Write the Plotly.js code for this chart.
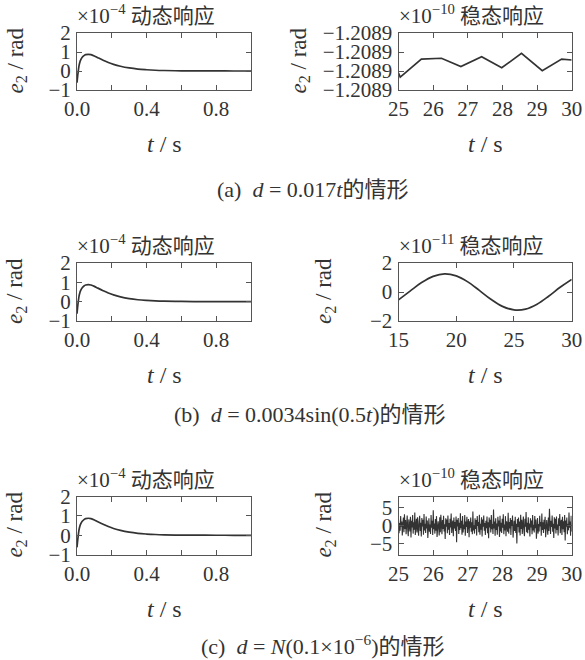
<!DOCTYPE html>
<html>
<head>
<meta charset="utf-8">
<script src="https://cdn.plot.ly/plotly-3.0.1.min.js"></script>
<style>html,body{margin:0;padding:0;background:#fff;}#chart{width:585px;height:660px;}</style>
</head>
<body>
<div id="chart"></div>
<script>
// ---------- data ----------
// dynamic response (same in all three cases), units 1e-4 rad
var dynT = [0, 0.004, 0.008, 0.012, 0.016, 0.02, 0.03, 0.04, 0.05, 0.065, 0.08, 0.1, 0.12, 0.15, 0.18, 0.21, 0.25, 0.3, 0.35, 0.4, 0.45, 0.5, 0.6, 0.7, 0.8, 0.9, 1.0];
var dynE = [-0.62, -0.25, 0.05, 0.3, 0.45, 0.56, 0.72, 0.81, 0.86, 0.88, 0.86, 0.79, 0.7, 0.57, 0.45, 0.35, 0.25, 0.16, 0.1, 0.065, 0.04, 0.025, 0.01, 0.005, 0.002, 0.001, 0];

// (a) steady-state, units 1e-10 rad
var ssAT = [25, 25.05, 25.66, 26.24, 26.8, 27.4, 27.98, 28.55, 29.15, 29.71, 30];
var ssAE = [-1.2088811, -1.2088832, -1.2088737, -1.2088733, -1.2088777, -1.2088725, -1.2088783, -1.2088707, -1.2088798, -1.2088737, -1.2088742];

// (b) steady-state, units 1e-11 rad
var ssBT = [15, 16, 17, 18, 19, 20, 21, 22, 23, 24, 25, 26, 27, 28, 29, 30];
var ssBE = [-0.54, 0.06, 0.65, 1.08, 1.25, 1.11, 0.70, 0.11, -0.50, -0.99, -1.23, -1.18, -0.84, -0.29, 0.33, 0.87];

// (c) steady-state noise, units 1e-10 rad, sampled evenly from t0 to t1
var ssCT0 = 25, ssCT1 = 30;
var ssCE = [
1.8,-2.1,0.7,-1.4,2.6,-0.3,1.1,-2.7,0.4,2.2,-1.8,3.1,-0.9,1.5,-2.4,0.2,2.8,-1.2,-2.9,1.7,
0.6,-1.6,2.4,-3.3,1.3,-0.5,2.9,-2.2,0.9,-1.1,3.6,-2.6,0.1,1.9,-1.9,2.3,-0.7,-2.8,1.2,2.7,
-1.5,0.8,-3.0,2.1,-0.2,1.6,-2.5,3.2,-1.3,0.5,-2.0,2.5,-0.8,1.4,-3.4,1.0,2.0,-1.7,0.3,-2.3,
2.9,-0.6,1.3,-2.6,4.2,-1.0,0.6,-2.2,1.8,-1.4,2.6,-3.1,0.9,1.2,-0.4,-2.7,2.3,-1.8,3.0,-0.1,
-2.4,1.5,-0.9,2.7,-1.6,0.4,-3.7,2.0,-0.3,1.7,-2.1,2.8,-1.1,0.7,-2.6,1.9,-0.5,3.3,-2.0,0.2,
1.4,-2.9,2.2,-0.8,1.0,-1.5,2.5,-4.6,1.6,-0.2,2.1,-2.3,0.8,-1.2,3.4,-0.7,1.3,-2.5,2.6,-1.9,
0.3,-1.0,2.9,-2.8,1.1,-0.4,2.4,-2.0,0.6,1.8,-3.2,1.2,-0.6,2.2,-1.7,0.9,-2.4,3.9,-1.3,0.1,
-2.2,2.0,-0.9,1.5,-2.7,2.6,-0.1,1.0,-1.8,3.0,-2.5,0.5,-1.1,2.3,-3.0,1.7,-0.3,2.8,-1.4,0.7,
-2.6,1.3,-0.7,2.5,-2.1,0.9,-3.5,2.2,-0.5,1.6,-1.9,2.9,-1.0,0.4,-2.3,4.4,-0.8,1.1,-2.8,2.0,
-1.2,0.6,-2.5,2.4,-0.2,1.4,-3.1,2.7,-1.6,0.8,-2.0,1.9,-0.6,3.1,-2.4,0.3,-1.3,2.6,-2.9,1.2,
0.2,-1.7,3.5,-2.2,1.0,-0.8,2.1,-2.6,1.5,-0.1,2.8,-3.3,0.7,1.3,-1.5,2.4,-2.0,0.5,-4.9,1.8,
-0.4,2.2,-1.9,1.1,-2.7,3.0,-0.9,1.6,-2.3,0.4,2.5,-1.4,-2.9,1.9,-0.3,3.7,-1.8,0.8,-2.1,2.3,
-1.1,0.6,-3.0,2.0,-0.5,1.4,-2.4,2.9,-1.3,0.2,-1.9,2.6,-0.7,1.7,-3.6,1.2,2.1,-2.2,0.4,-1.6,
2.7,-0.2,1.0,-2.8,3.3,-1.2,0.9,-2.0,1.6,-1.0,2.4,-3.2,0.6,1.5,-0.6,-2.5,2.2,-1.5,4.6,-0.9,
-2.3,1.3,-0.4,2.8,-1.7,0.5,-3.4,2.3,-0.8,1.9,-2.2,2.5,-1.2,0.3,-2.7,2.0,-0.1,3.2,-2.1,0.9,
1.6,-2.6,2.4,-1.0,1.2,-1.8,2.9,-4.1,1.4,-0.3,2.2,-2.4,0.5,-1.3,3.6,-0.6,1.1,-2.8,2.7,-1.6
];
var ssCT = ssCE.map(function(_, i){ return ssCT0 + (ssCT1 - ssCT0) * i / (ssCE.length - 1); });

// tick labels
var dynXTickVals = [0, 0.2, 0.4, 0.6, 0.8, 1.0];
var dynXTickText = ["0.0", "", "0.4", "", "0.8", ""];
var dynYTickVals = [-1, 0, 1, 2];
var dynYTickText = ["\u22121", "0", "1", "2"];
var ssAYTickVals = [-1.20889, -1.20888, -1.20887, -1.20886];
var ssAYTickText = ["\u22121.2089", "\u22121.2089", "\u22121.2089", "\u22121.2089"];
var ssBYTickVals = [-2, 0, 2];
var ssBYTickText = ["\u22122", "0", "2"];
var ssCYTickVals = [-5, 0, 5];
var ssCYTickText = ["\u22125", "0", "5"];

var dynTitle = "\u00d710<sup>\u22124</sup> 动态响应";
var ssTitles = ["\u00d710<sup>\u221210</sup> 稳态响应", "\u00d710<sup>\u221211</sup> 稳态响应", "\u00d710<sup>\u221210</sup> 稳态响应"];
var captions = ["(a)  <i>d</i> = 0.017<i>t</i>的情形", "(b)  <i>d</i> = 0.0034sin(0.5<i>t</i>)的情形", "(c)  <i>d</i> = <i>N</i>(0.1\u00d710<sup>\u22126</sup>)的情形"];
var yTitle = "<i>e</i><sub>2</sub> / rad";
var xTitle = "<i>t</i> / s";

// ---------- layout ----------
var W = 585, H = 660;
function fx(p){ return p / W; }
function fy(p){ return 1 - p / H; }

var FONT = "'Liberation Serif', 'Times New Roman', 'Noto Sans CJK SC', serif";
var TXT = "#333";
var AX = "#555";
var LINE = "#333";

var colL = [77, 251], colR = [398.5, 571.7];
var rows = [[33, 90], [263, 321], [496.5, 554.7]];

function axisBase(){
  return {
    showline: true, linecolor: AX, linewidth: 1, mirror: 'ticks',
    ticks: 'inside', ticklen: 5, tickcolor: AX, tickwidth: 1,
    showgrid: false, zeroline: false, fixedrange: true,
    tickfont: {family: FONT, size: 21, color: TXT}
  };
}

var layout = {
  width: W, height: H,
  margin: {l: 0, r: 0, t: 0, b: 0},
  paper_bgcolor: '#fff', plot_bgcolor: '#fff',
  showlegend: false,
  font: {family: FONT, color: TXT},
  annotations: []
};

var traces = [];
var specs = [
  {x: dynT, y: dynE, col: colL, row: 0, kind: 'dyn'},
  {x: ssAT, y: ssAE, col: colR, row: 0, kind: 'a'},
  {x: dynT, y: dynE, col: colL, row: 1, kind: 'dyn'},
  {x: ssBT, y: ssBE, col: colR, row: 1, kind: 'b'},
  {x: dynT, y: dynE, col: colL, row: 2, kind: 'dyn'},
  {x: ssCT, y: ssCE, col: colR, row: 2, kind: 'c'}
];

specs.forEach(function(s, i){
  var n = i + 1;
  var sfx = (n === 1) ? '' : String(n);
  var r = rows[s.row];
  var xa = axisBase(), ya = axisBase();
  xa.domain = [fx(s.col[0]), fx(s.col[1])];
  ya.domain = [fy(r[1]), fy(r[0])];
  xa.anchor = 'y' + sfx; ya.anchor = 'x' + sfx;
  xa.ticklabelstandoff = 0; ya.ticklabelstandoff = 1;
  if (s.kind === 'dyn') {
    xa.range = [0, 1]; xa.tickmode = 'array'; xa.tickvals = dynXTickVals; xa.ticktext = dynXTickText;
    ya.range = [-1, 2]; ya.tickmode = 'array'; ya.tickvals = dynYTickVals; ya.ticktext = dynYTickText;
  } else if (s.kind === 'a') {
    xa.range = [25, 30]; xa.dtick = 1; xa.tick0 = 25;
    ya.range = [-1.20889, -1.20886]; ya.tickmode = 'array'; ya.tickvals = ssAYTickVals; ya.ticktext = ssAYTickText;
  } else if (s.kind === 'b') {
    xa.range = [15, 30]; xa.dtick = 5; xa.tick0 = 15;
    ya.range = [-2, 2]; ya.tickmode = 'array'; ya.tickvals = ssBYTickVals; ya.ticktext = ssBYTickText;
  } else {
    xa.range = [25, 30]; xa.dtick = 1; xa.tick0 = 25;
    ya.range = [-8, 8]; ya.tickmode = 'array'; ya.tickvals = ssCYTickVals; ya.ticktext = ssCYTickText;
  }
  layout['xaxis' + sfx] = xa;
  layout['yaxis' + sfx] = ya;

  traces.push({
    type: 'scatter', mode: 'lines', x: s.x, y: s.y,
    xaxis: 'x' + sfx, yaxis: 'y' + sfx,
    line: {color: LINE, width: (s.kind === 'c' ? 1.1 : 1.7), shape: (s.kind === 'dyn' || s.kind === 'b') ? 'spline' : 'linear'},
    hoverinfo: 'skip'
  });

  // panel title
  layout.annotations.push({
    xref: 'paper', yref: 'paper', x: fx(s.col[0] - 2), y: fy(r[0] - 3),
    xanchor: 'left', yanchor: 'bottom', showarrow: false,
    text: (s.kind === 'dyn' ? dynTitle : ssTitles[s.row]),
    font: {family: FONT, size: 21, color: TXT}
  });
  // x title
  layout.annotations.push({
    xref: 'paper', yref: 'paper', x: fx((s.col[0] + s.col[1]) / 2), y: fy(r[1] + 54),
    xanchor: 'center', yanchor: 'middle', showarrow: false,
    text: xTitle, font: {family: FONT, size: 24, color: TXT}
  });
});

// y titles
var yTitleX = [[16, 299], [16, 325], [16, 325]];
rows.forEach(function(r, ri){
  [colL, colR].forEach(function(c, ci){
    layout.annotations.push({
      xref: 'paper', yref: 'paper', x: fx(yTitleX[ri][ci]), y: fy((r[0] + r[1]) / 2 - 1),
      xanchor: 'center', yanchor: 'middle', showarrow: false, textangle: -90,
      text: yTitle, font: {family: FONT, size: 23, color: TXT}
    });
  });
});

// captions
var capY = [189, 414, 645];
var capX = [312, 310, 322];
captions.forEach(function(c, i){
  layout.annotations.push({
    xref: 'paper', yref: 'paper', x: fx(capX[i]), y: fy(capY[i]),
    xanchor: 'center', yanchor: 'middle', showarrow: false,
    text: c, font: {family: FONT, size: 22, color: TXT}
  });
});

Plotly.newPlot('chart', traces, layout, {staticPlot: true, displayModeBar: false});
</script>
</body>
</html>
